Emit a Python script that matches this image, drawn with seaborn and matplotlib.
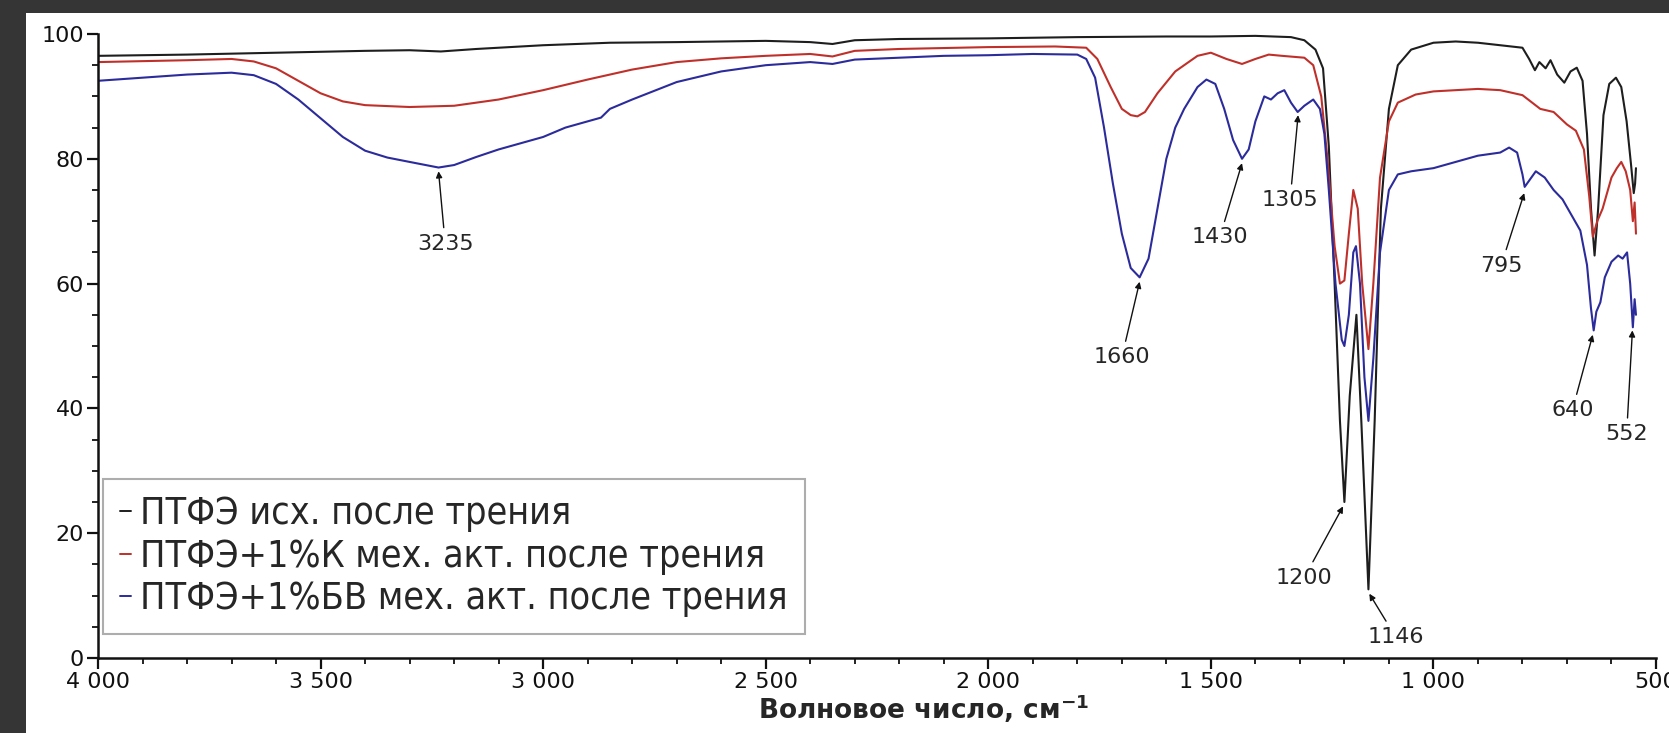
import numpy as np
import pandas as pd
import matplotlib
matplotlib.use("Agg")
import matplotlib.pyplot as plt
import matplotlib.patches as mpatches
from matplotlib.ticker import MultipleLocator, FuncFormatter
import seaborn as sns

# --- данные (волновое число, пропускание %) ---
wn_black = [4000, 3800, 3600, 3400, 3300, 3230, 3150, 3000, 2850, 2700, 2500, 2400, 2350, 2300, 2200,
            2000, 1800, 1600, 1500, 1400, 1320, 1290, 1265, 1248, 1235, 1222, 1210, 1200, 1188, 1173,
            1162, 1146, 1132, 1118, 1100, 1080, 1050, 1000, 950, 900, 850, 800, 785, 772, 762, 748,
            737, 722, 706, 692, 678, 665, 655, 646, 638, 630, 618, 605, 590, 578, 566, 556, 550, 547, 545]
t_black = [96.5, 96.7, 97.0, 97.3, 97.4, 97.2, 97.6, 98.2, 98.6, 98.7, 98.9, 98.7, 98.4, 99.0, 99.2,
           99.3, 99.5, 99.6, 99.6, 99.7, 99.5, 99.0, 97.5, 94.5, 82.0, 60.0, 38.0, 25.0, 42.0, 55.0,
           38.0, 11.0, 38.0, 72.0, 88.0, 95.0, 97.5, 98.6, 98.8, 98.6, 98.2, 97.8, 96.0, 94.2, 95.5, 94.5,
           95.8, 93.5, 92.2, 94.0, 94.6, 92.5, 84.0, 72.0, 64.5, 72.0, 87.0, 92.0, 93.0, 91.5, 86.0, 79.0, 74.5, 76.0, 78.5]

wn_red = [4000, 3800, 3700, 3650, 3600, 3550, 3500, 3450, 3400, 3300, 3200, 3100, 3000, 2900, 2800,
          2700, 2600, 2500, 2400, 2350, 2300, 2200, 2000, 1850, 1780, 1755, 1725, 1700, 1680, 1665,
          1648, 1620, 1580, 1530, 1500, 1465, 1430, 1400, 1370, 1340, 1290, 1270, 1252, 1238, 1222,
          1210, 1200, 1190, 1180, 1170, 1160, 1146, 1135, 1120, 1100, 1080, 1040, 1000, 950, 900, 850,
          800, 760, 730, 700, 680, 662, 650, 642, 632, 620, 600, 588, 578, 568, 558, 552, 548, 545]
t_red = [95.5, 95.8, 96.0, 95.6, 94.5, 92.5, 90.5, 89.2, 88.6, 88.3, 88.5, 89.5, 91.0, 92.7, 94.3,
         95.5, 96.1, 96.5, 96.8, 96.4, 97.3, 97.6, 97.9, 98.0, 97.8, 96.0, 91.5, 88.0, 87.0, 86.8,
         87.5, 90.5, 94.0, 96.5, 97.0, 96.0, 95.2, 96.0, 96.7, 96.5, 96.2, 95.0, 90.0, 80.0, 66.0,
         60.0, 60.5, 68.0, 75.0, 72.0, 60.0, 49.5, 60.0, 77.0, 86.0, 89.0, 90.3, 90.8, 91.0, 91.2, 91.0,
         90.2, 88.0, 87.5, 85.5, 84.5, 81.5, 74.0, 67.5, 70.0, 72.0, 77.0, 78.5, 79.5, 78.0, 75.0, 70.0, 73.0, 68.0]

wn_blue = [4000, 3800, 3700, 3650, 3600, 3550, 3500, 3450, 3400, 3350, 3300, 3235, 3200, 3150, 3100,
           3050, 3000, 2950, 2900, 2870, 2850, 2800, 2700, 2600, 2500, 2400, 2350, 2300, 2200, 2100,
           2000, 1900, 1800, 1780, 1760, 1740, 1720, 1700, 1680, 1660, 1640, 1620, 1600, 1580, 1560,
           1530, 1510, 1490, 1470, 1450, 1430, 1415, 1400, 1380, 1365, 1350, 1335, 1320, 1305, 1290,
           1270, 1255, 1245, 1235, 1220, 1206, 1200, 1190, 1180, 1174, 1165, 1155, 1146, 1135, 1120,
           1100, 1080, 1050, 1000, 950, 900, 850, 830, 812, 800, 795, 785, 770, 750, 730, 710, 690,
           670, 655, 646, 640, 634, 625, 615, 600, 585, 575, 565, 558, 552, 548, 545]
t_blue = [92.5, 93.5, 93.8, 93.4, 92.0, 89.5, 86.5, 83.5, 81.3, 80.2, 79.5, 78.6, 79.0, 80.3, 81.5,
          82.5, 83.5, 85.0, 86.0, 86.6, 88.0, 89.5, 92.3, 94.0, 95.0, 95.5, 95.2, 95.9, 96.2, 96.5,
          96.6, 96.8, 96.7, 96.0, 93.0, 85.0, 76.0, 68.0, 62.5, 61.0, 64.0, 72.0, 80.0, 85.0, 88.0,
          91.5, 92.7, 92.0, 88.0, 83.0, 80.0, 81.5, 86.0, 90.0, 89.5, 90.5, 91.0, 89.0, 87.5, 88.5,
          89.5, 88.0, 84.0, 75.0, 60.0, 51.0, 50.0, 55.0, 65.0, 66.0, 60.0, 45.0, 38.0, 48.0, 65.0,
          75.0, 77.5, 78.0, 78.5, 79.5, 80.5, 81.0, 81.8, 81.0, 77.5, 75.5, 76.5, 78.0, 77.0, 75.0, 73.5, 71.0,
          68.5, 63.0, 56.0, 52.5, 55.5, 57.0, 61.0, 63.5, 64.5, 64.0, 65.0, 60.0, 53.0, 57.5, 55.0]

labels = ["ПТФЭ исх. после трения",
          "ПТФЭ+1%К мех. акт. после трения",
          "ПТФЭ+1%БВ мех. акт. после трения"]
colors = ["#1e1e1e", "#c0302a", "#2b2b9c"]

# подписи пиков: (текст, точка пика, позиция текста)
peak_text = ["3235", "1660", "1430", "1305", "1200", "1146", "795", "640", "552"]
peak_xy = [(3235, 78.0), (1660, 60.3), (1430, 79.3), (1304, 87.0), (1203, 24.3),
           (1144, 10.3), (796, 74.5), (642, 51.8), (553, 52.5)]
text_xy = [(3220, 68.0), (1700, 49.8), (1480, 69.0), (1322, 75.0), (1290, 14.5),
           (1085, 5.0), (848, 64.5), (688, 41.3), (566, 37.5)]

df = pd.concat([
    pd.DataFrame({"wn": wn_black, "T": t_black, "sample": labels[0]}),
    pd.DataFrame({"wn": wn_red, "T": t_red, "sample": labels[1]}),
    pd.DataFrame({"wn": wn_blue, "T": t_blue, "sample": labels[2]}),
])

sns.set_style("ticks")
plt.rcParams['font.family'] = ['DejaVu Sans']

fig = plt.figure(figsize=(16.69, 7.33), dpi=100, facecolor="#353535")
# белое поле внутри тёмной рамки
fig.patches.append(mpatches.Rectangle((26 / 1669, 0), 1, 1 - 13 / 733, transform=fig.transFigure,
                                      facecolor="white", edgecolor="none", zorder=-10))
ax = fig.add_axes([98 / 1669, 1 - 658 / 733, (1656 - 98) / 1669, (658 - 34) / 733])
ax.set_facecolor("none")
ax.set_zorder(5)

sns.lineplot(data=df, x="wn", y="T", hue="sample", palette=colors, sort=False,
             estimator=None, linewidth=1.5, ax=ax, legend=False)

ax.set_xlim(4000, 500)
ax.set_ylim(0, 100)
ax.xaxis.set_major_locator(MultipleLocator(500))
ax.xaxis.set_minor_locator(MultipleLocator(100))
ax.yaxis.set_major_locator(MultipleLocator(20))
ax.yaxis.set_minor_locator(MultipleLocator(5))
ax.xaxis.set_major_formatter(FuncFormatter(lambda v, p: f"{int(v):,}".replace(",", " ")))
ax.tick_params(which="major", length=8, width=1.6, labelsize=16, colors="#111111", pad=2)
ax.tick_params(which="minor", length=4, width=1.3, colors="#111111")
sns.despine(ax=ax)
for s in ["left", "bottom"]:
    ax.spines[s].set_linewidth(1.8)
    ax.spines[s].set_color("#111111")

ax.set_xlabel("Волновое число, см$^{\\mathbf{-1}}$", fontsize=19, fontweight="bold")
ax.xaxis.set_label_coords(0.53, -0.055)
ax.set_ylabel("")

for txt, pxy, txy in zip(peak_text, peak_xy, text_xy):
    ax.annotate(txt, xy=pxy, xytext=txy, fontsize=16, ha="center", va="top",
                arrowprops=dict(arrowstyle="-|>", color="#111111", lw=1.0,
                                mutation_scale=9, shrinkA=2, shrinkB=0))

handles = [plt.Line2D([], [], color=c, lw=1.4) for c in colors]
leg = ax.legend(handles, labels, loc="lower left", bbox_to_anchor=(0.003, 0.038), borderaxespad=0,
                prop=dict(size=27, stretch="condensed"), handlelength=0.3, handletextpad=0.25,
                borderpad=0.45, labelspacing=0.18, frameon=True, fancybox=False, edgecolor="#999999")
leg.get_frame().set_linewidth(1.5)

fig.savefig("out.png", dpi=100, facecolor=fig.get_facecolor())
